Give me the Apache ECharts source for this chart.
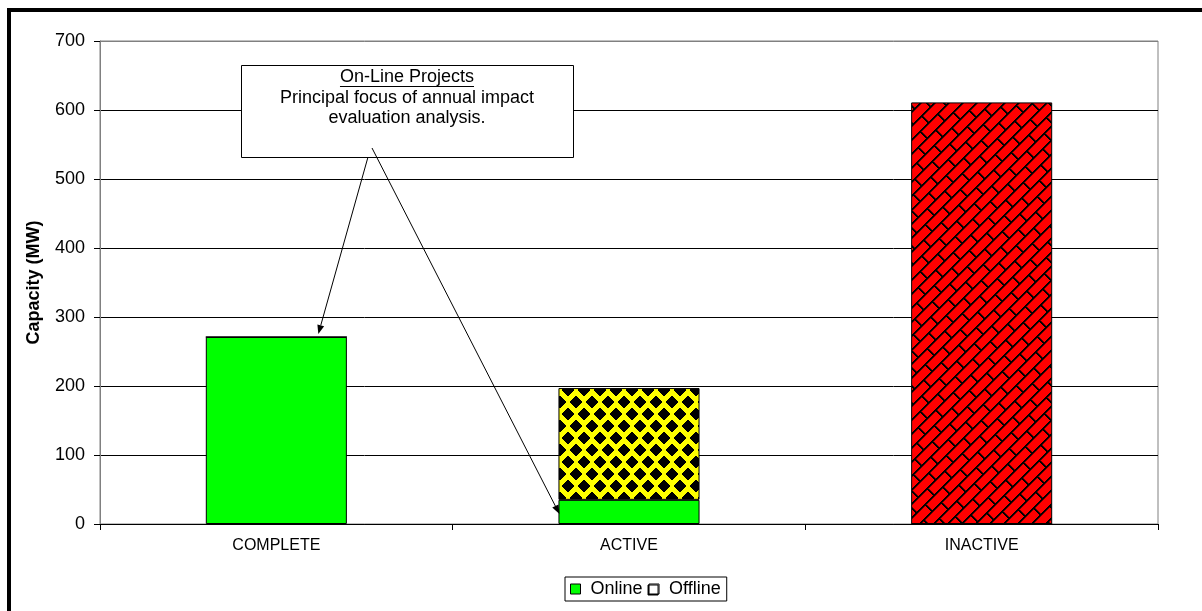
<!DOCTYPE html>
<html>
<head>
<meta charset="utf-8">
<script src="https://cdn.jsdelivr.net/npm/echarts@6/dist/echarts.min.js"></script>
<style>
  html, body { margin: 0; padding: 0; background: #fff; }
  #chart { width: 1202px; height: 611px; }
</style>
</head>
<body>
<div id="chart"></div>
<script>
// Project capacity by status
const categories = ['COMPLETE', 'ACTIVE', 'INACTIVE'];
const onlineMW = [271, 35, 0];
const offlineMW = [0, 162, 611];
const yTicks = { min: 0, max: 700, interval: 100 };
const calloutTitle = 'On-Line Projects';
const calloutLines = ['Principal focus of annual impact', 'evaluation analysis.'];

const FONT = 'Arial, "Liberation Sans", sans-serif';

// Yellow fill with staggered black diamonds
function diamondPattern() {
  const w = 16, h = 24;
  const c = document.createElement('canvas');
  c.width = w; c.height = h;
  const ctx = c.getContext('2d');
  const img = ctx.createImageData(w, h);
  const pts = [[8, 6], [0, 18], [16, 18], [8, 30], [0, -6], [16, -6]];
  for (let y = 0; y < h; y++) {
    for (let x = 0; x < w; x++) {
      let black = false;
      for (const [cx, cy] of pts) {
        if (Math.abs(x + 0.5 - cx) / 6.6 + Math.abs(y + 0.5 - cy) / 6.0 <= 1) { black = true; break; }
      }
      const i = (y * w + x) * 4;
      if (black) { img.data[i] = 0; img.data[i + 1] = 0; img.data[i + 2] = 0; }
      else { img.data[i] = 255; img.data[i + 1] = 255; img.data[i + 2] = 0; }
      img.data[i + 3] = 255;
    }
  }
  ctx.putImageData(img, 0, 0);
  return c;
}

// Red fill with diagonal brick courses and dark mortar
function brickPattern() {
  const S = 140, dA = 14, dB = 35;
  const c = document.createElement('canvas');
  c.width = S; c.height = S;
  const ctx = c.getContext('2d');
  const img = ctx.createImageData(S, S);
  for (let y = 0; y < S; y++) {
    for (let x = 0; x < S; x++) {
      const a = x + y;
      const b = x - y + 4 * S;
      const row = Math.floor(a / dA);
      const off = (row % 2) * (dB / 2);
      const ma = a % dA;
      const mb = (b + off) % dB;
      const i = (y * S + x) * 4;
      let v;
      if (ma < 2 || mb < 2) v = [0, 0, 0];
      else if (ma < 3 || mb < 3) v = [110, 0, 0];
      else v = [255, 0, 0];
      img.data[i] = v[0]; img.data[i + 1] = v[1]; img.data[i + 2] = v[2]; img.data[i + 3] = 255;
    }
  }
  ctx.putImageData(img, 0, 0);
  return c;
}

const diamondFill = { image: diamondPattern(), repeat: 'repeat' };
const brickFill = { image: brickPattern(), repeat: 'repeat' };
const offlineFills = [diamondFill, diamondFill, brickFill];

const chart = echarts.init(document.getElementById('chart'), null, { renderer: 'canvas' });

const option = {
  backgroundColor: '#fff',
  animation: false,
  textStyle: { fontFamily: FONT },
  grid: {
    left: 100, right: 44, top: 41, bottom: 87,
    show: true, borderColor: '#808080', borderWidth: 1, backgroundColor: 'transparent'
  },
  legend: {
    top: 577,
    left: 565,
    itemWidth: 10, itemHeight: 10, itemGap: 6,
    padding: [3, 6, 3, 5],
    borderColor: '#000', borderWidth: 1,
    textStyle: { fontFamily: FONT, fontSize: 18, color: '#000', padding: [0, 0, 0, 5] },
    data: [
      { name: 'Online', icon: 'rect', itemStyle: { color: '#00ff00', borderColor: '#000', borderWidth: 1 } },
      { name: 'Offline', icon: 'rect', itemStyle: { color: '#fff', borderColor: '#000', borderWidth: 1, shadowColor: '#000', shadowOffsetX: -1, shadowOffsetY: 1 } }
    ]
  },
  xAxis: {
    type: 'category',
    data: categories,
    boundaryGap: true,
    axisLine: { lineStyle: { color: '#000', width: 1 } },
    axisTick: { show: true, length: 6, alignWithLabel: false, lineStyle: { color: '#000' } },
    axisLabel: { color: '#000', fontSize: 16, margin: 14, fontFamily: FONT },
    splitLine: { show: false }
  },
  yAxis: {
    type: 'value',
    min: yTicks.min, max: yTicks.max, interval: yTicks.interval,
    name: 'Capacity (MW)',
    nameLocation: 'middle',
    nameGap: 57,
    nameTextStyle: { fontFamily: FONT, fontSize: 18, fontWeight: 'bold', color: '#000' },
    axisLine: { show: true, lineStyle: { color: '#808080', width: 1 } },
    axisTick: { show: true, length: 6, lineStyle: { color: '#000' } },
    axisLabel: { color: '#000', fontSize: 18, margin: 15, fontFamily: FONT },
    splitLine: { show: true, lineStyle: { color: ['#000', '#000', '#000', '#000', '#000', '#000', '#000', '#808080'], width: 1 } }
  },
  series: [
    {
      name: 'Online',
      type: 'bar',
      stack: 'cap',
      barWidth: '40%',
      itemStyle: { color: '#00ff00', borderColor: '#000', borderWidth: 1 },
      data: onlineMW
    },
    {
      name: 'Offline',
      type: 'bar',
      stack: 'cap',
      barWidth: '40%',
      itemStyle: { color: '#fff', borderColor: '#000', borderWidth: 1 },
      data: offlineMW.map((v, i) => ({ value: v, itemStyle: { color: offlineFills[i] } }))
    }
  ]
};

chart.setOption(option);

// Callout box and arrows pointing at the on-line capacity
function arrow(x1, y1, x2, y2) {
  const ang = Math.atan2(y2 - y1, x2 - x1);
  const L = 9, W = 3.5;
  const bx = x2 - L * Math.cos(ang), by = y2 - L * Math.sin(ang);
  const px = -Math.sin(ang) * W, py = Math.cos(ang) * W;
  return [
    { type: 'line', shape: { x1, y1, x2: bx, y2: by }, style: { stroke: '#000', lineWidth: 1 }, z: 100 },
    { type: 'polygon', shape: { points: [[x2, y2], [bx + px, by + py], [bx - px, by - py]] }, style: { fill: '#000' }, z: 100 }
  ];
}

const completeTop = chart.convertToPixel({ gridIndex: 0 }, [0, onlineMW[0]]);
const activeOnline = chart.convertToPixel({ gridIndex: 0 }, [1, onlineMW[1] / 2 - 3]);
const barHalf = (1058 / 3) * 0.4 / 2;

const box = { x: 241, y: 65, w: 332, h: 92 };
const TFONT = '18px ' + FONT;
const graphics = [
  { type: 'rect', shape: { x: 9, y: 10, width: 1300, height: 700 }, style: { fill: 'none', stroke: '#000', lineWidth: 4 }, z: 120, silent: true },
  { type: 'rect', shape: { x: box.x + 0.5, y: box.y + 0.5, width: box.w, height: box.h }, style: { fill: '#fff', stroke: '#000', lineWidth: 1 }, z: 90 },
  { type: 'text', x: box.x + box.w / 2, y: 77, style: { text: calloutTitle, font: TFONT, fill: '#000', align: 'center', verticalAlign: 'middle' }, z: 91 },
  { type: 'text', x: box.x + box.w / 2, y: 98, style: { text: calloutLines[0], font: TFONT, fill: '#000', align: 'center', verticalAlign: 'middle' }, z: 91 },
  { type: 'text', x: box.x + box.w / 2, y: 118, style: { text: calloutLines[1], font: TFONT, fill: '#000', align: 'center', verticalAlign: 'middle' }, z: 91 }
];
// underline under the callout title
const titleW = echarts.format.getTextRect ? echarts.format.getTextRect(calloutTitle, TFONT).width : 134;
graphics.push({ type: 'line', shape: { x1: box.x + box.w / 2 - titleW / 2, y1: 86.5, x2: box.x + box.w / 2 + titleW / 2, y2: 86.5 }, style: { stroke: '#000', lineWidth: 1 }, z: 91 });
graphics.push(...arrow(368, 157, completeTop[0] + 42, completeTop[1] - 3));
graphics.push(...arrow(372, 148, activeOnline[0] - barHalf + 1, activeOnline[1]));

chart.setOption({ graphic: graphics });
</script>
</body>
</html>
